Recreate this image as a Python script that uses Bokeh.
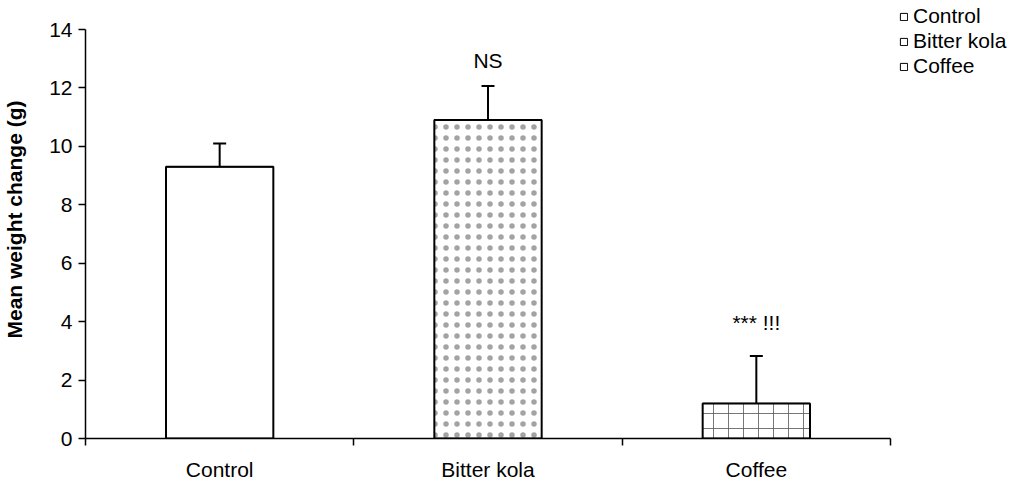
from bokeh.plotting import figure
from bokeh.models import (ColumnDataSource, Range1d, FixedTicker, Whisker, TeeHead,
                          Legend, LegendItem, CDSView, IndexFilter)
from bokeh.core.properties import value
from bokeh.embed import file_html
from bokeh.resources import INLINE

# ---- data ----
groups = ["Control", "Bitter kola", "Coffee"]
means = [9.3, 10.9, 1.2]
errors = [0.8, 1.17, 1.62]
marks = ["", "NS", "*** !!!"]
mark_gap_px = [0, 14, 22]
y_ticks = [0, 2, 4, 6, 8, 10, 12, 14]

FONT = "Liberation Sans"
FS = "21px"
Y_MAX = 14

# ---- geometry (pixels) ----
AXIS_W = 805          # drawn length of x axis
AXIS_H = 409          # drawn length of y axis
FRAME_W = 925         # frame extends to the right to host the legend
FRAME_H = 438         # frame extends upward to host the legend
px_per_x = AXIS_W / len(groups)
px_per_y = AXIS_H / Y_MAX

x = [i + 0.5 for i in range(len(groups))]
upper = [m + e for m, e in zip(means, errors)]
ann_y = [u + g / px_per_y for u, g in zip(upper, mark_gap_px)]

src = ColumnDataSource(dict(x=x, means=means, upper=upper, ann_y=ann_y, marks=marks, groups=groups))

p = figure(frame_width=FRAME_W, frame_height=FRAME_H,
           x_range=Range1d(0, FRAME_W / px_per_x), y_range=Range1d(0, FRAME_H / px_per_y),
           output_backend="svg", toolbar_location=None,
           min_border_left=85, min_border_right=0, min_border_top=0, min_border_bottom=0)
p.outline_line_color = None
p.xgrid.visible = False
p.ygrid.visible = False
p.background_fill_color = "white"
p.border_fill_color = "white"

styles = [
    dict(),
    dict(hatch_pattern="dot", hatch_scale=11, hatch_color="#333333", hatch_weight=0.1, hatch_alpha=0.45),
    dict(hatch_pattern="cross", hatch_scale=15, hatch_color="#555555", hatch_weight=1, hatch_alpha=0.8),
]
legend_renderers = []
for i, st in enumerate(styles):
    p.vbar(x="x", top="means", width=0.4, source=src, view=CDSView(filter=IndexFilter([i])),
           fill_color="white", line_color="black", line_width=2, **st)
    # legend-only renderer: a zero-height box lying on the bar's top edge,
    # so that the legend shows a plain small box as in the reference
    lr = p.vbar(x="x", top="means", bottom="means", width=0.4, source=src,
                view=CDSView(filter=IndexFilter([i])),
                fill_color="white", line_color="black", line_width=1)
    legend_renderers.append(lr)

wh = Whisker(source=src, base="x", lower="means", upper="upper", dimension="height",
             line_color="black", line_width=2,
             upper_head=TeeHead(size=13, line_color="black", line_width=2), lower_head=None)
p.add_layout(wh)

p.text(x="x", y="ann_y", text="marks", source=src, text_align="center", text_baseline="bottom",
       text_font=value(FONT), text_font_size=FS, text_color="black")

# x axis: labels at category centres, ticks at boundaries
xa = p.xaxis[0]
xa.bounds = (0, len(groups))
xa.ticker = FixedTicker(ticks=x, minor_ticks=list(range(len(groups) + 1)))
xa.major_label_overrides = {xi: g for xi, g in zip(x, groups)}
xa.major_tick_out = 0
xa.major_tick_in = 0
xa.minor_tick_out = 7
xa.minor_tick_in = 0
xa.minor_tick_line_color = "black"
xa.minor_tick_line_width = 1.5
xa.axis_line_color = "black"
xa.axis_line_width = 1.5
xa.major_label_text_font = FONT
xa.major_label_text_font_size = FS
xa.major_label_text_color = "black"
xa.major_label_standoff = 12

ya = p.yaxis[0]
ya.bounds = (0, Y_MAX)
ya.ticker = FixedTicker(ticks=y_ticks)
ya.major_tick_out = 7
ya.major_tick_in = 0
ya.minor_tick_line_color = None
ya.major_tick_line_color = "black"
ya.major_tick_line_width = 1.5
ya.axis_line_color = "black"
ya.axis_line_width = 1.5
ya.major_label_text_font = FONT
ya.major_label_text_font_size = FS
ya.major_label_text_color = "black"
ya.major_label_standoff = 6
ya.axis_label = "Mean weight change (g)"
ya.axis_label_text_font = FONT
ya.axis_label_text_font_size = FS
ya.axis_label_text_font_style = "bold"
ya.axis_label_text_color = "black"
ya.axis_label_standoff = 20

LEG_ITEM_H = 24
LEG_SPACING = 1
leg_h = len(groups) * LEG_ITEM_H + (len(groups) - 1) * LEG_SPACING
legend = Legend(items=[LegendItem(label=g, renderers=[r]) for g, r in zip(groups, legend_renderers)],
                location=(814, FRAME_H - leg_h - 4), orientation="vertical",
                glyph_width=9, glyph_height=9, label_standoff=5, padding=0, margin=0,
                spacing=LEG_SPACING, label_height=LEG_ITEM_H,
                border_line_color=None, background_fill_alpha=0,
                label_text_font=FONT, label_text_font_size=FS, label_text_color="black")
p.add_layout(legend)

open("out.html", "w").write(file_html(p, INLINE))
